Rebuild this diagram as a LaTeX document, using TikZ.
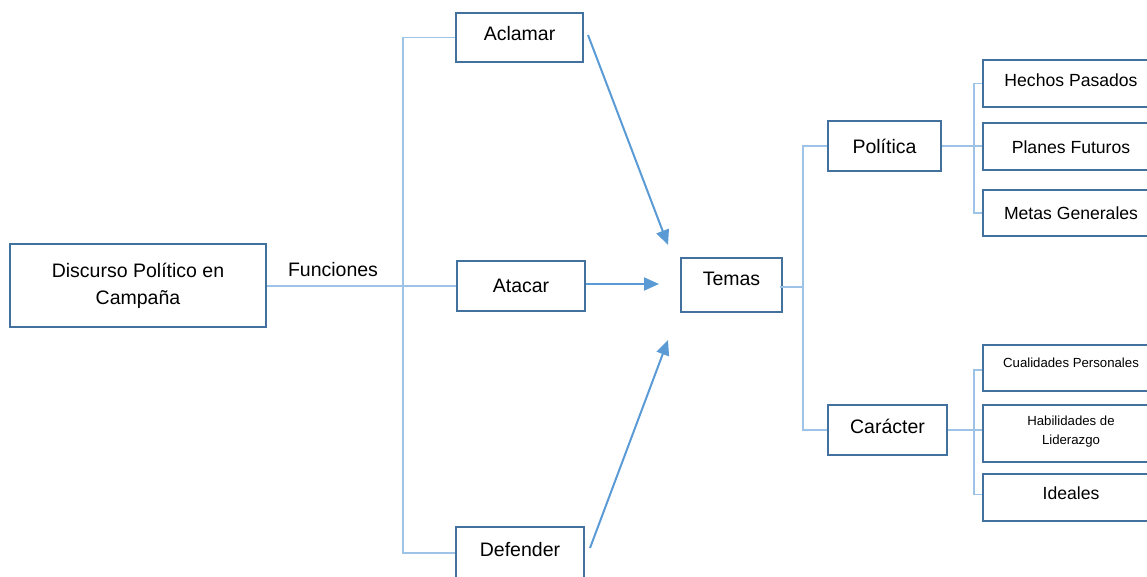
\documentclass[tikz,border=0pt]{standalone}
\usepackage{fontspec}
\setmainfont{Liberation Sans}
\usetikzlibrary{arrows.meta}
\definecolor{boxline}{HTML}{41719C}
\definecolor{linkline}{HTML}{9DC3E6}
\definecolor{arrowline}{HTML}{5B9BD5}
\tikzset{
  box/.style={draw=boxline, line width=2pt, fill=white, align=center, inner sep=0pt,
              font=\fontsize{19.5}{27}\selectfont},
  leaf/.style={box, minimum width=176, font=\fontsize{17.6}{22}\selectfont},
  smallleaf/.style={leaf, font=\fontsize{13.2}{19}\selectfont},
  conn/.style={draw=linkline, line width=1.5pt},
  arr/.style={draw=arrowline, line width=2pt, -{Triangle[length=15pt,width=13pt]}}
}
\begin{document}
\begin{tikzpicture}[x=1pt,y=-1pt]
\clip (0,0) rectangle (1147,577);
\fill[white] (0,0) rectangle (1147,577);

% left column
\node[box, minimum width=256, minimum height=83] (disc) at (138,285.5) {Discurso Político en\\Campaña};
\node[font=\fontsize{19.5}{23}\selectfont] (fun) at (333,270) {Funciones};

% functions
\node[box, minimum width=127, minimum height=49, text depth=8] (acl) at (519.5,37.5) {Aclamar};
\node[box, minimum width=128, minimum height=50] (ata) at (521,286) {Atacar};
\node[box, minimum width=128, minimum height=52, text depth=8] (def) at (520,553) {Defender};

% topics
\node[box, minimum width=101, minimum height=54, text depth=12] (temas) at (731.5,285) {Temas};
\node[box, minimum width=113, minimum height=50] (pol) at (884.5,146) {Política};
\node[box, minimum width=119, minimum height=50, text depth=7] (car) at (887.5,430) {Carácter};

% subtopics
\node[leaf, minimum height=47, text depth=7] (hechos) at (1071,83.5) {Hechos Pasados};
\node[leaf, minimum height=47] (planes) at (1071,147) {Planes Futuros};
\node[leaf, minimum height=46] (metas) at (1071,213) {Metas Generales};
\node[smallleaf, minimum height=46, text depth=10] (cual) at (1071,368) {Cualidades Personales};
\node[smallleaf, minimum height=57, text depth=6] (habil) at (1071,433.5) {Habilidades de\\Liderazgo};
\node[leaf, minimum height=47, text depth=8] (ideal) at (1071,497.5) {Ideales};

% trunk from the speech to its functions
\coordinate (tA) at (403,286);
\draw[conn] (disc.east |- tA) -- (tA -| ata.west);
\draw[conn] (acl.west) -| (tA) |- (def.west);

% functions pointing at the topics
\coordinate (inA) at (668,245);
\coordinate (inB) at (659,284);
\coordinate (inC) at (668,340);
\draw[arr] (588,35) -- (inA);
\draw[arr] (ata.east |- inB) -- (inB);
\draw[arr] (590,548) -- (inC);

% topics tree
\coordinate (tB) at (803,287);
\draw[conn] ([xshift=-3]temas.east |- tB) -- (tB);
\draw[conn] (pol.west) -| (tB) |- (car.west);

\coordinate (tC) at (974,146);
\draw[conn] (pol.east) -- (pol.east -| hechos.west);
\draw[conn] (hechos.west) -| (tC) |- (metas.west);

\coordinate (tD) at (974,430);
\draw[conn] (car.east) -- (car.east -| habil.west);
\draw[conn] ([yshift=-2]cual.west) -| (tD) |- ([yshift=3]ideal.west);
\end{tikzpicture}
\end{document}
